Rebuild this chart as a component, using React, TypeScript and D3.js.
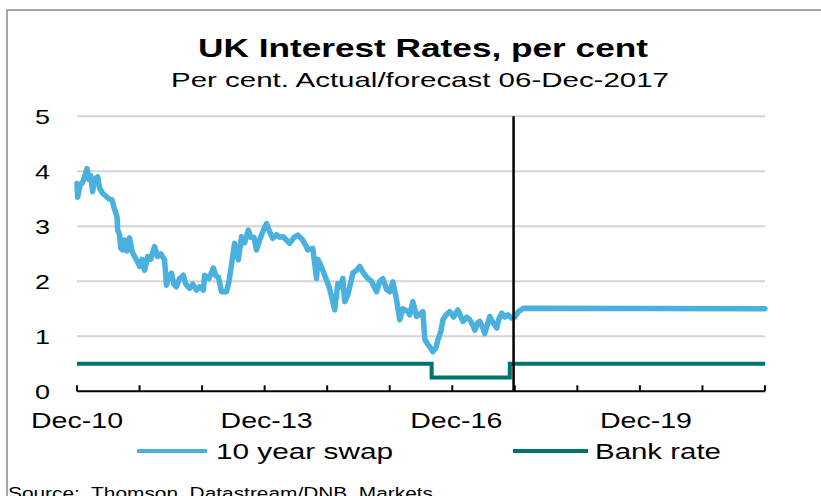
import React from "react";
import * as d3 from "d3";

const swapYears = [
  2010.92, 2010.93, 2010.97, 2011.01, 2011.04, 2011.08, 2011.11, 2011.14, 2011.17, 2011.2,
  2011.25, 2011.28, 2011.33, 2011.38, 2011.43, 2011.48, 2011.51, 2011.56, 2011.57, 2011.6,
  2011.62, 2011.65, 2011.68, 2011.72, 2011.76, 2011.8, 2011.84, 2011.89, 2011.92, 2011.96,
  2012.0, 2012.05, 2012.1, 2012.16, 2012.21, 2012.26, 2012.32, 2012.35, 2012.39, 2012.43,
  2012.47, 2012.51, 2012.56, 2012.62, 2012.66, 2012.72, 2012.77, 2012.83, 2012.88, 2012.94,
  2012.96, 2013.03, 2013.1, 2013.14, 2013.18, 2013.23, 2013.31, 2013.35, 2013.39, 2013.44,
  2013.5, 2013.55, 2013.6, 2013.66, 2013.7, 2013.75, 2013.79, 2013.84, 2013.89, 2013.95,
  2014.0, 2014.05, 2014.11, 2014.16, 2014.22, 2014.27, 2014.32, 2014.39, 2014.45, 2014.53,
  2014.58, 2014.61, 2014.69, 2014.75, 2014.77, 2014.8, 2014.85, 2014.91, 2014.95, 2014.99,
  2015.04, 2015.09, 2015.14, 2015.17, 2015.2, 2015.25, 2015.28, 2015.33, 2015.39, 2015.44,
  2015.5, 2015.57, 2015.63, 2015.71, 2015.76, 2015.81, 2015.87, 2015.92, 2015.97, 2016.03,
  2016.08, 2016.13, 2016.16, 2016.21, 2016.24, 2016.29, 2016.35, 2016.4, 2016.45, 2016.48,
  2016.53, 2016.56, 2016.61, 2016.66, 2016.69, 2016.74, 2016.77, 2016.83, 2016.88, 2016.94,
  2017.01, 2017.06, 2017.09, 2017.15, 2017.2, 2017.25, 2017.28, 2017.33, 2017.36, 2017.41,
  2017.44, 2017.49, 2017.52, 2017.57, 2017.63, 2017.66, 2017.71, 2017.76, 2017.81, 2017.87,
  2017.92, 2017.98, 2018.06, 2021.92,
];

const swapValues = [
  3.78, 3.53, 3.75, 3.8, 3.9, 4.05, 3.85, 3.92, 3.63, 3.85,
  3.9, 3.7, 3.6, 3.55, 3.5, 3.48, 3.35, 3.17, 2.93, 2.85,
  2.6, 2.57, 2.75, 2.55, 2.79, 2.55, 2.45, 2.35, 2.27, 2.4,
  2.2, 2.45, 2.4, 2.63, 2.45, 2.5, 2.39, 1.93, 2.1, 2.15,
  1.95, 1.9, 2.05, 2.11, 1.95, 1.87, 1.95, 1.84, 1.9, 1.84,
  2.11, 2.05, 2.24, 2.1, 2.08, 1.81, 1.81, 2.0, 2.3, 2.69,
  2.39, 2.81, 2.7, 2.93, 2.8, 2.8, 2.57, 2.75, 2.9, 3.05,
  2.9, 2.78, 2.85, 2.8, 2.81, 2.75, 2.69, 2.8, 2.84, 2.75,
  2.65, 2.57, 2.6, 2.05, 2.4, 2.33, 2.2, 2.02, 1.9, 1.72,
  1.48, 1.96, 1.9, 2.05, 1.63, 1.75, 1.9, 2.15, 2.2, 2.27,
  2.15, 2.05, 2.0, 1.81, 2.0, 2.05, 1.85, 1.81, 1.99, 1.66,
  1.3, 1.5, 1.48, 1.45, 1.39, 1.63, 1.36, 1.4, 1.45, 0.95,
  0.85, 0.81, 0.72, 0.8, 0.93, 1.1, 1.3, 1.4, 1.45, 1.35,
  1.48, 1.35, 1.27, 1.35, 1.3, 1.2, 1.11, 1.25, 1.27, 1.15,
  1.05, 1.25, 1.36, 1.25, 1.15, 1.3, 1.42, 1.35, 1.39, 1.33,
  1.35, 1.45, 1.51, 1.5,
];

const bankYears = [2010.92, 2016.59, 2017.84, 2021.92];
const bankValues = [0.5, 0.25, 0.5, 0.5];

const forecastYear = 2017.9;
const yTicks = [0, 1, 2, 3, 4, 5];
const xTickYears = [2010.92, 2011.92, 2012.92, 2013.92, 2014.92, 2015.92, 2016.92, 2017.92, 2018.92, 2019.92, 2020.92, 2021.92];
const xLabelYears = [2010.92, 2013.92, 2016.92, 2019.92];
const xLabels = ["Dec-10", "Dec-13", "Dec-16", "Dec-19"];

const title = "UK Interest Rates, per cent";
const subtitle = "Per cent. Actual/forecast 06-Dec-2017";
const seriesNames = ["10 year swap", "Bank rate"];
const source = "Source:  Thomson  Datastream/DNB  Markets";

const SWAP = "#4AB1DF";
const BANK = "#00736F";
const FONT = "'Liberation Sans', Arial, sans-serif";

export default function App() {
  const x = d3.scaleLinear().domain([2010.92, 2021.92]).range([77, 765]);
  const y = d3.scaleLinear().domain([0, 5]).range([391.3, 116.3]);

  const swapData = swapYears.map((t, i) => [t, swapValues[i]] as [number, number]);
  const bankData = bankYears.map((t, i) => [t, bankValues[i]] as [number, number]);

  const swapLine = d3.line<[number, number]>().x((d) => x(d[0])).y((d) => y(d[1]));
  const bankLine = d3
    .line<[number, number]>()
    .x((d) => x(d[0]))
    .y((d) => y(d[1]))
    .curve(d3.curveStepAfter);

  return (
    <svg
      width={821}
      height={496}
      style={{ position: "fixed", left: 0, top: 0, display: "block", background: "#fff" }}
      fontFamily={FONT}
    >
      <rect x={7} y={10} width={830} height={500} fill="#fff" stroke="#A6A6A6" strokeWidth={2} />

      <text x={423} y={57} textAnchor="middle" fontSize={26} fontWeight="bold" fill="#000" textLength={450} lengthAdjust="spacingAndGlyphs">
        {title}
      </text>
      <text x={420} y={87} textAnchor="middle" fontSize={21} fill="#000" textLength={498} lengthAdjust="spacingAndGlyphs">
        {subtitle}
      </text>

      {yTicks.slice(1).map((v) => (
        <line key={v} x1={x.range()[0]} x2={x.range()[1]} y1={y(v)} y2={y(v)} stroke="#D4D4D4" strokeWidth={2} />
      ))}
      {yTicks.map((v) => (
        <text key={v} x={50} y={y(v) + 8} textAnchor="end" fontSize={21} fill="#000" textLength={15} lengthAdjust="spacingAndGlyphs">
          {v}
        </text>
      ))}

      <line x1={x.range()[0]} x2={x.range()[1]} y1={y(0)} y2={y(0)} stroke="#000" strokeWidth={2} />
      {xTickYears.map((t) => (
        <line key={t} x1={x(t)} x2={x(t)} y1={y(0)} y2={y(0) - 6} stroke="#000" strokeWidth={2} />
      ))}
      {xLabelYears.map((t, i) => (
        <text key={t} x={x(t) + i * 2} y={428} textAnchor="middle" fontSize={22} fill="#000" textLength={92} lengthAdjust="spacingAndGlyphs">
          {xLabels[i]}
        </text>
      ))}

      <path d={bankLine(bankData) || ""} fill="none" stroke={BANK} strokeWidth={4} />
      <path d={swapLine(swapData) || ""} fill="none" stroke={SWAP} strokeWidth={5.5} strokeLinejoin="round" strokeLinecap="round" />

      <line x1={x(forecastYear)} x2={x(forecastYear)} y1={y(5)} y2={y(0)} stroke="#000" strokeWidth={2.5} />

      <line x1={137} x2={207} y1={451} y2={451} stroke={SWAP} strokeWidth={4} />
      <text x={216} y={459} fontSize={22} fill="#000" textLength={177} lengthAdjust="spacingAndGlyphs">
        {seriesNames[0]}
      </text>
      <line x1={513} x2={588} y1={451} y2={451} stroke={BANK} strokeWidth={4} />
      <text x={595} y={459} fontSize={22} fill="#000" textLength={126} lengthAdjust="spacingAndGlyphs">
        {seriesNames[1]}
      </text>

      <text x={8} y={499} fontSize={16} fill="#000" textLength={425} lengthAdjust="spacingAndGlyphs" style={{ whiteSpace: "pre" }}>
        {source}
      </text>
    </svg>
  );
}
